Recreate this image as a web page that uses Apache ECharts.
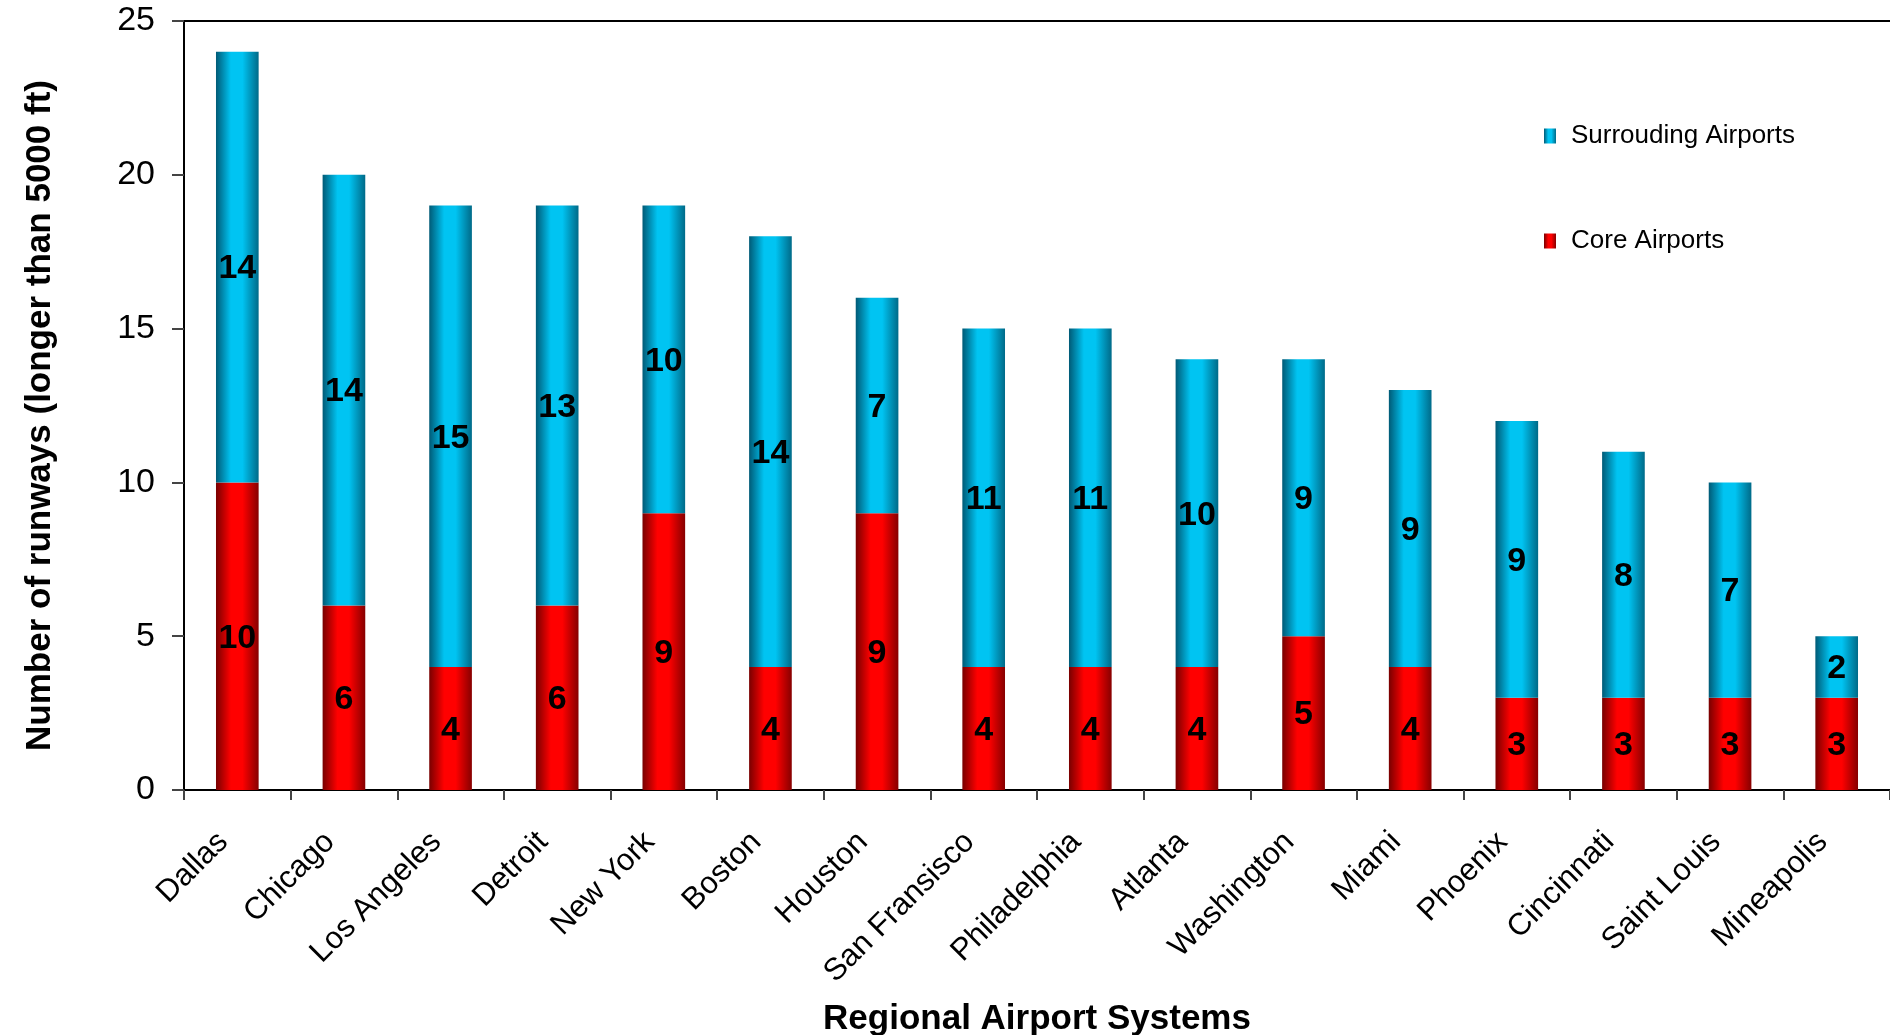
<!DOCTYPE html>
<html>
<head>
<meta charset="utf-8">
<script src="https://cdn.jsdelivr.net/npm/echarts@6/dist/echarts.min.js"></script>
<style>
html,body{margin:0;padding:0;background:#fff;}
#chart{width:1890px;height:1035px;}
</style>
</head>
<body>
<div id="chart"></div>
<script>
const categories = ['Dallas','Chicago','Los Angeles','Detroit','New York','Boston','Houston','San Fransisco','Philadelphia','Atlanta','Washington','Miami','Phoenix','Cincinnati','Saint Louis','Mineapolis'];
const coreAirports = [10,6,4,6,9,4,9,4,4,4,5,4,3,3,3,3];
const surroundingAirports = [14,14,15,13,10,14,7,11,11,10,9,9,9,8,7,2];
const yTicks = [0,5,10,15,20,25];

const FONT = '"Liberation Sans", Arial, sans-serif';

const cyanGrad = new echarts.graphic.LinearGradient(0,0,1,0,[
  {offset:0, color:'#005a76'},
  {offset:0.35, color:'#00c4f2'},
  {offset:0.62, color:'#00c4f2'},
  {offset:1, color:'#006a88'}
]);
const redGrad = new echarts.graphic.LinearGradient(0,0,1,0,[
  {offset:0, color:'#780000'},
  {offset:0.35, color:'#ff0000'},
  {offset:0.62, color:'#ff0000'},
  {offset:1, color:'#860000'}
]);

const chart = echarts.init(document.getElementById('chart'), null, {renderer:'canvas'});
const labelStyle = {show:true, position:'inside', offset:[0,2], color:'#000', fontFamily:FONT, fontWeight:'bold', fontSize:34};

chart.setOption({
  animation:false,
  backgroundColor:'#fff',
  grid:{left:184, top:21, right:0, bottom:245, containLabel:false, outerBoundsMode:'none'},
  legend:{
    orient:'vertical', left:1544, top:123, padding:0,
    icon:'rect',
    itemWidth:12, itemHeight:15, itemGap:79,
    textStyle:{fontFamily:FONT, fontSize:26, color:'#000', lineHeight:26, padding:[0,0,0,10]},
    data:['Surrouding Airports','Core Airports']
  },
  xAxis:[{
    type:'category', data:categories,
    axisLine:{lineStyle:{color:'#000', width:2}},
    axisTick:{show:true, length:10, alignWithLabel:false, lineStyle:{color:'#444', width:2}},
    axisLabel:{rotate:45, margin:33, padding:[0,20,0,0], fontFamily:FONT, fontSize:31, color:'#000', interval:0},
    name:'Regional Airport Systems', nameLocation:'middle', nameGap:212,
    nameTextStyle:{fontFamily:FONT, fontSize:35, fontWeight:'bold', color:'#000'}
  },{
    type:'category', data:categories, position:'top',
    axisLine:{show:true, lineStyle:{color:'#000', width:2}},
    axisTick:{show:false}, axisLabel:{show:false}
  }],
  yAxis:{
    type:'value', min:0, max:25, interval:5,
    axisLine:{show:true, lineStyle:{color:'#000', width:2}},
    axisTick:{show:true, length:12, lineStyle:{color:'#444', width:2}},
    splitLine:{show:false},
    axisLabel:{margin:29, fontFamily:FONT, fontSize:34, color:'#000',
      formatter:function(v){return yTicks.indexOf(v)>=0 ? String(v) : '';}},
    name:'Number of runways (longer than 5000 ft)', nameLocation:'middle', nameGap:126,
    nameTextStyle:{fontFamily:FONT, fontSize:35, fontWeight:'bold', color:'#000', padding:[0,20,0,0]}
  },
  series:[
    {name:'Core Airports', type:'bar', stack:'total', data:coreAirports, barWidth:'40%',
     itemStyle:{color:redGrad}, label:labelStyle, xAxisIndex:0},
    {name:'Surrouding Airports', type:'bar', stack:'total', data:surroundingAirports, barWidth:'40%',
     itemStyle:{color:cyanGrad}, label:labelStyle, xAxisIndex:0}
  ]
});
</script>
</body>
</html>
